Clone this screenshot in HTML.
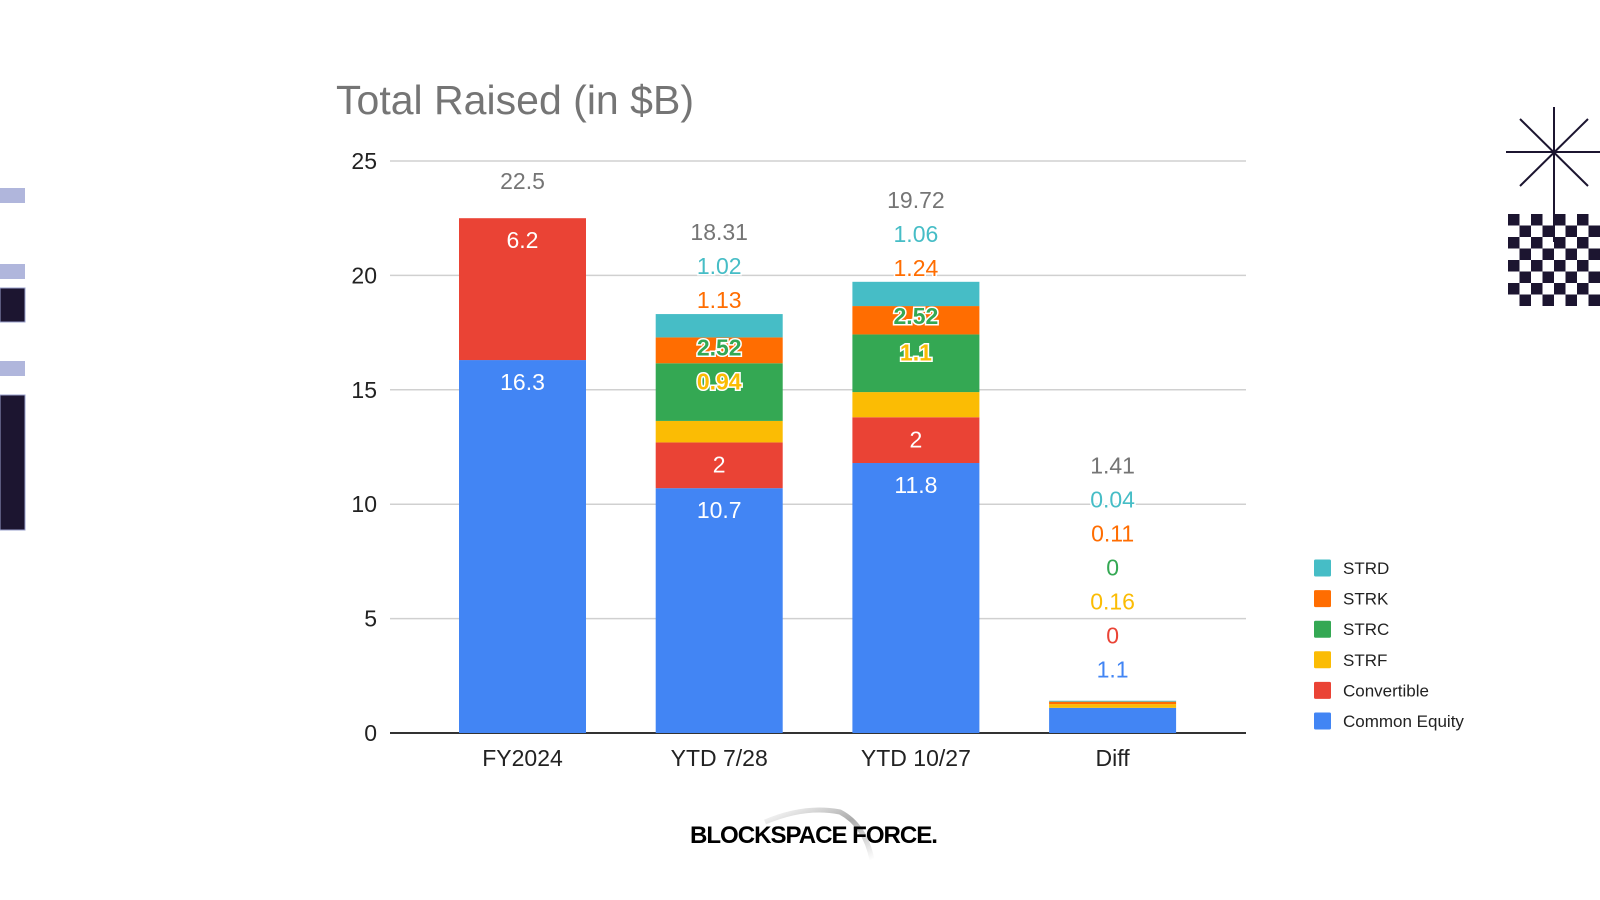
<!DOCTYPE html>
<html><head><meta charset="utf-8">
<style>
html,body{margin:0;padding:0;background:#fff;}
svg{display:block;font-family:"Liberation Sans",Arial,sans-serif;}
</style></head>
<body>
<svg id="chart" width="1600" height="900" viewBox="0 0 1600 900" xmlns="http://www.w3.org/2000/svg">
  <defs>
    <linearGradient id="arcg" x1="0" y1="0" x2="1" y2="1">
      <stop offset="0" stop-color="#fff"/>
      <stop offset="0.5" stop-color="#888"/>
      <stop offset="1" stop-color="#fff"/>
    </linearGradient>
  </defs>
  <g>
    <rect x="0" y="188" width="25" height="15" fill="#b0b6dc"/>
    <rect x="0" y="264" width="25" height="15" fill="#b0b6dc"/>
    <rect x="0" y="288" width="25" height="34" fill="#1c1530" stroke="#9aa0cc" stroke-width="1"/>
    <rect x="0" y="361" width="25" height="15" fill="#b0b6dc"/>
    <rect x="0" y="395" width="25" height="135" fill="#1c1530" stroke="#9aa0cc" stroke-width="1"/>
  </g>
  <g stroke="#1c1530" stroke-width="2">
    <line x1="1506" y1="152" x2="1600" y2="152"/>
    <line x1="1554" y1="107" x2="1554" y2="242"/>
    <line x1="1520" y1="119" x2="1588" y2="186"/>
    <line x1="1588" y1="119" x2="1520" y2="186"/>
  </g>
  <g id="checker"></g>
  <text x="336" y="114" font-size="41" fill="#757575" textLength="358" lengthAdjust="spacingAndGlyphs">Total Raised (in $B)</text>
  <g id="grid"></g>
  <g id="bars"></g>
  <g id="labels"></g>
  <g id="legend"></g>
  <g>
    <path d="M765 822 Q805 805 840 812 Q865 825 872 860" fill="none" stroke="url(#arcg)" stroke-width="5" opacity="0.7"/>
    <text x="690" y="843" font-size="24" font-weight="900" fill="#000" textLength="247" lengthAdjust="spacingAndGlyphs" letter-spacing="-1">BLOCKSPACE FORCE.</text>
  </g>
</svg>
<script>
const categories = ["FY2024","YTD 7/28","YTD 10/27","Diff"];
const seriesNames = ["Common Equity","Convertible","STRF","STRC","STRK","STRD"];
const commonEquity = [16.3,10.7,11.8,1.1];
const convertible = [6.2,2,2,0];
const strf = [0,0.94,1.1,0.16];
const strc = [0,2.52,2.52,0];
const strk = [0,1.13,1.24,0.11];
const strd = [0,1.02,1.06,0.04];
const yTicks = [0,5,10,15,20,25];
const totals = ["22.5","18.31","19.72","1.41"];

const series = [commonEquity,convertible,strf,strc,strk,strd];
const colors = ["#4285f4","#ea4335","#fbbc04","#34a853","#ff6d01","#46bdc6"];
const NS="http://www.w3.org/2000/svg";
const X0=390,X1=1246,Y0=733,Ymax=25,Ytop=161;
const yScale=v=>Y0-(v/Ymax)*(Y0-Ytop);
const band=196.7, firstC=522.5, barW=127;
const xCenter=i=>firstC+i*band;
function mk(tag,attrs,parent){const e=document.createElementNS(NS,tag);for(const k in attrs)e.setAttribute(k,attrs[k]);parent.appendChild(e);return e;}
function fmt(v){return String(v);}

const chk=document.getElementById('checker');
for(let r=0;r<8;r++)for(let c=0;c<8;c++){if((r+c)%2===0){const e=mk('rect',{x:1508+c*11.5,y:214+r*11.5,width:11.5,height:11.5,fill:'#1c1530'},chk);

}}

const grid=document.getElementById('grid');
yTicks.forEach(t=>{
  const y=yScale(t);
  const l=mk('line',{x1:X0,x2:X1,y1:y,y2:y,stroke:t===0?'#333':'#d0d0d0','stroke-width':t===0?2:1.5},grid);
  
  
  const tx=mk('text',{x:377,y:y+8,'text-anchor':'end','font-size':23,fill:'#222'},grid);
  tx.textContent=t;
  
  
});
categories.forEach((c,i)=>{
  const tx=mk('text',{x:xCenter(i),y:766,'text-anchor':'middle','font-size':23,fill:'#222'},grid);
  tx.textContent=c;
  
  
});

const bars=document.getElementById('bars'), labels=document.getElementById('labels');
categories.forEach((c,i)=>{
  let acc=0; const segTops=[]; const segs=[];
  series.forEach((s,k)=>{
    const v=s[i]; const yb=yScale(acc); acc+=v; const yt=yScale(acc);
    segTops.push(yt); segs.push({v,yb,yt,k});
    if(v>0){const r=mk('rect',{x:xCenter(i)-barW/2,y:yt,width:barW,height:yb-yt,fill:colors[k]},bars);
      
      }
  });
  const top=yScale(acc);
  const outside=[];
  segs.forEach(sg=>{
    const h=sg.yb-sg.yt;
    if(sg.k<=1 && h>=30){
      const t=mk('text',{x:xCenter(i),y:sg.yt+30,'text-anchor':'middle','font-size':23,fill:'#fff'},labels);
      t.textContent=fmt(sg.v);
      
      
    } else if((sg.k===2||sg.k===3) && h>=15 && i<3){
      const yy=segTops[sg.k+1]+ (sg.k===2?26:18);
      const t=mk('text',{x:xCenter(i),y:yy,'text-anchor':'middle','font-size':23,'font-weight':'bold',fill:colors[sg.k],stroke:'#fff','stroke-width':3,'paint-order':'stroke'},labels);
      t.textContent=fmt(sg.v);
      
      
    } else if(sg.v>0 || i===3){
      if(!(sg.k===2||sg.k===3) || i===3) outside.push(sg);
    }
  });
  const allOut = outside.length===series.length;
  let y = top - (allOut?31:(outside.length?14:37));
  outside.forEach(sg=>{
    const t=mk('text',{x:xCenter(i),y:y+8,'text-anchor':'middle','font-size':23,fill:colors[sg.k],stroke:'#fff','stroke-width':3,'paint-order':'stroke'},labels);
    t.textContent=fmt(sg.v);
    
    
    y-=34;
  });
  const tt=mk('text',{x:xCenter(i),y:y+8,'text-anchor':'middle','font-size':23,fill:'#757575'},labels);
  tt.textContent=totals[i];
  
  
});

const legend=document.getElementById('legend');
for(let k=5;k>=0;k--){
  const row=5-k; const cy=568+row*30.6;
  const g=mk('g',{},legend);
  
  
  mk('rect',{x:1314,y:cy-8.5,width:17,height:17,fill:colors[k],rx:1.5},g);
  const t=mk('text',{x:1343,y:cy+6,'font-size':17,fill:'#222'},g);
  t.textContent=seriesNames[k];
}
</script>
</body></html>
